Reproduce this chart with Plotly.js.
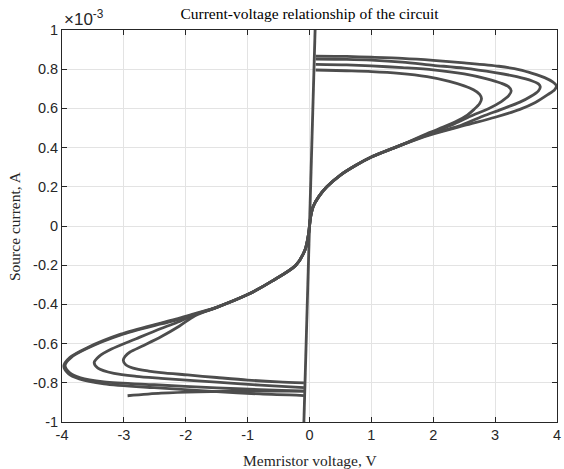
<!DOCTYPE html>
<html>
<head>
<meta charset="utf-8">
<script src="https://cdn.plot.ly/plotly-3.0.1.min.js"></script>
<style>
  html, body { margin: 0; padding: 0; background: #ffffff; }
  #chart { width: 564px; height: 469px; }
</style>
</head>
<body>
<div id="chart"></div>
<script>
// Memristor voltage (V) and source current (units of 1e-3 A) along the trajectory.

// Start-up transient on the off branch
const transientV = [-2.94, -2.4, -1.8, -1.0, -0.09];
const transientI = [-0.866, -0.853, -0.846, -0.843, -0.842];

// Low-resistance (on) branch
const onV = [-0.095, 0.095];
const onI = [-1.05, 1.05];

// Positive half-cycles: from the switching point out to the turning point and back
const up1V = [0.1, 0.6, 1.0, 1.45, 1.9, 2.26, 2.5, 2.65, 2.75, 2.78, 2.75, 2.66, 2.55, 2.35, 2.15, 1.95];
const up1I = [0.796, 0.792, 0.788, 0.779, 0.762, 0.738, 0.715, 0.695, 0.672, 0.65, 0.625, 0.595, 0.566, 0.53, 0.503, 0.478];

const up2V = [0.1, 0.6, 1.0, 1.5, 2.0, 2.5, 2.85, 3.1, 3.22, 3.26, 3.22, 3.1, 2.9, 2.6, 2.3, 1.95];
const up2I = [0.825, 0.822, 0.817, 0.808, 0.797, 0.776, 0.752, 0.728, 0.71, 0.69, 0.665, 0.635, 0.6, 0.56, 0.516, 0.474];

const up3V = [0.1, 0.6, 1.0, 1.5, 2.0, 2.5, 3.0, 3.35, 3.6, 3.7, 3.73, 3.7, 3.58, 3.4, 3.1, 2.8, 2.4, 1.95];
const up3I = [0.852, 0.85, 0.846, 0.836, 0.82, 0.805, 0.782, 0.762, 0.74, 0.725, 0.71, 0.69, 0.662, 0.632, 0.595, 0.56, 0.508, 0.469];

const up4V = [0.1, 0.6, 1.0, 1.5, 2.0, 2.5, 3.06, 3.4, 3.6, 3.8, 3.93, 3.99, 3.96, 3.85, 3.65, 3.4, 3.0, 2.5, 1.95];
const up4I = [0.867, 0.865, 0.861, 0.855, 0.845, 0.832, 0.815, 0.797, 0.779, 0.757, 0.735, 0.715, 0.695, 0.67, 0.63, 0.595, 0.555, 0.513, 0.465];

// Shared high-resistance (off) branch through the origin
const offV = [1.5, 1.0, 0.75, 0.5, 0.28, 0.15, 0.06, 0.02, 0, -0.02, -0.07, -0.22, -0.6, -1.0, -1.5];
const offI = [0.415, 0.352, 0.31, 0.26, 0.2, 0.15, 0.1, 0.05, 0, -0.05, -0.12, -0.2, -0.28, -0.35, -0.415];

// Negative half-cycles: out to the turning point and back to the switching point
const dn1V = [-1.85, -2.1, -2.4, -2.7, -2.9, -2.98, -3.01, -2.97, -2.85, -2.6, -2.4, -1.97, -1.5, -1.0, -0.5, -0.09];
const dn1I = [-0.458, -0.51, -0.565, -0.612, -0.643, -0.665, -0.685, -0.708, -0.725, -0.74, -0.748, -0.76, -0.773, -0.786, -0.795, -0.80];

const dn2V = [-1.85, -2.1, -2.4, -2.8, -3.2, -3.4, -3.48, -3.42, -3.16, -2.8, -2.4, -1.5, -0.8, -0.09];
const dn2I = [-0.453, -0.487, -0.523, -0.575, -0.628, -0.665, -0.697, -0.725, -0.752, -0.767, -0.777, -0.797, -0.812, -0.825];

const dn3V = [-1.85, -2.1, -2.4, -3.05, -3.59, -3.85, -3.95, -3.88, -3.7, -3.32, -2.51, -1.5, -0.8, -0.09];
const dn3I = [-0.45, -0.475, -0.5, -0.556, -0.624, -0.67, -0.71, -0.748, -0.775, -0.795, -0.81, -0.826, -0.835, -0.842];

const dn4V = [-1.85, -2.1, -2.4, -3.05, -3.6, -3.87, -3.97, -3.9, -3.72, -3.32, -2.51, -1.5, -0.8, -0.09];
const dn4I = [-0.447, -0.47, -0.495, -0.552, -0.622, -0.67, -0.714, -0.752, -0.78, -0.805, -0.825, -0.845, -0.857, -0.865];

// Axis ticks
const xTicks = [-4, -3, -2, -1, 0, 1, 2, 3, 4];
const xTickText = ['-4', '-3', '-2', '-1', '0', '1', '2', '3', '4'];
const yTicks = [-1, -0.8, -0.6, -0.4, -0.2, 0, 0.2, 0.4, 0.6, 0.8, 1];
const yTickText = ['-1', '-0.8', '-0.6', '-0.4', '-0.2', '0', '0.2', '0.4', '0.6', '0.8', '1'];

const lineColor = 'rgb(77,77,77)';

// Each full cycle: positive half, shared off branch, negative half
const cycles = [
  [up1V, up1I, dn1V, dn1I],
  [up2V, up2I, dn2V, dn2I],
  [up3V, up3I, dn3V, dn3I],
  [up4V, up4I, dn4V, dn4I]
];
const segments = [[transientV, transientI], [onV, onI]].concat(
  cycles.map(([uv, ui, dv, di]) => [uv.concat(offV, dv), ui.concat(offI, di)])
);

const traces = segments.map(([v, i]) => ({
  x: v, y: i,
  type: 'scatter', mode: 'lines',
  line: { color: lineColor, width: 2.8, shape: 'spline', smoothing: 0.8 },
  hoverinfo: 'skip', showlegend: false
}));

const serif = 'Liberation Serif, Times New Roman, serif';
const sans = 'Liberation Sans, Arial, sans-serif';

const axisCommon = {
  showline: true, linecolor: '#262626', linewidth: 1,
  mirror: 'ticks', ticks: 'inside', ticklen: 5, tickwidth: 1, tickcolor: '#262626',
  showgrid: true, gridcolor: '#e3e3e3', gridwidth: 1,
  zeroline: false,
  tickfont: { family: sans, size: 14.5, color: '#262626' }
};

const layout = {
  width: 564, height: 469,
  margin: { l: 62, r: 7, t: 30, b: 47 },
  paper_bgcolor: '#ffffff', plot_bgcolor: '#ffffff',
  title: {
    text: 'Current-voltage relationship of the circuit',
    font: { family: serif, size: 15.5, color: '#000000' },
    x: 0.5, xref: 'paper', y: 1 - 14 / 469, yref: 'container', yanchor: 'middle'
  },
  xaxis: Object.assign({}, axisCommon, {
    range: [-4, 4], tickmode: 'array', tickvals: xTicks, ticktext: xTickText
  }),
  yaxis: Object.assign({}, axisCommon, {
    range: [-1, 1], tickmode: 'array', tickvals: yTicks, ticktext: yTickText
  }),
  annotations: [
    {
      text: '\u00d710<sup>-3</sup>', xref: 'paper', yref: 'paper', x: 0, y: 1,
      xanchor: 'left', yanchor: 'bottom', showarrow: false, yshift: -1,
      font: { family: sans, size: 17, color: '#262626' }
    },
    {
      text: 'Memristor voltage, V', xref: 'paper', yref: 'paper',
      x: 0.5, y: (422 - 460) / 392, xanchor: 'center', yanchor: 'middle', showarrow: false,
      font: { family: serif, size: 15.5, color: '#262626' }
    },
    {
      text: 'Source current, A', xref: 'paper', yref: 'paper', textangle: -90,
      x: (14 - 62) / 495, y: 0.5, xanchor: 'center', yanchor: 'middle', showarrow: false,
      font: { family: serif, size: 15.5, color: '#262626' }
    }
  ]
};

Plotly.newPlot('chart', traces, layout, { staticPlot: true, displayModeBar: false });
</script>
</body>
</html>
